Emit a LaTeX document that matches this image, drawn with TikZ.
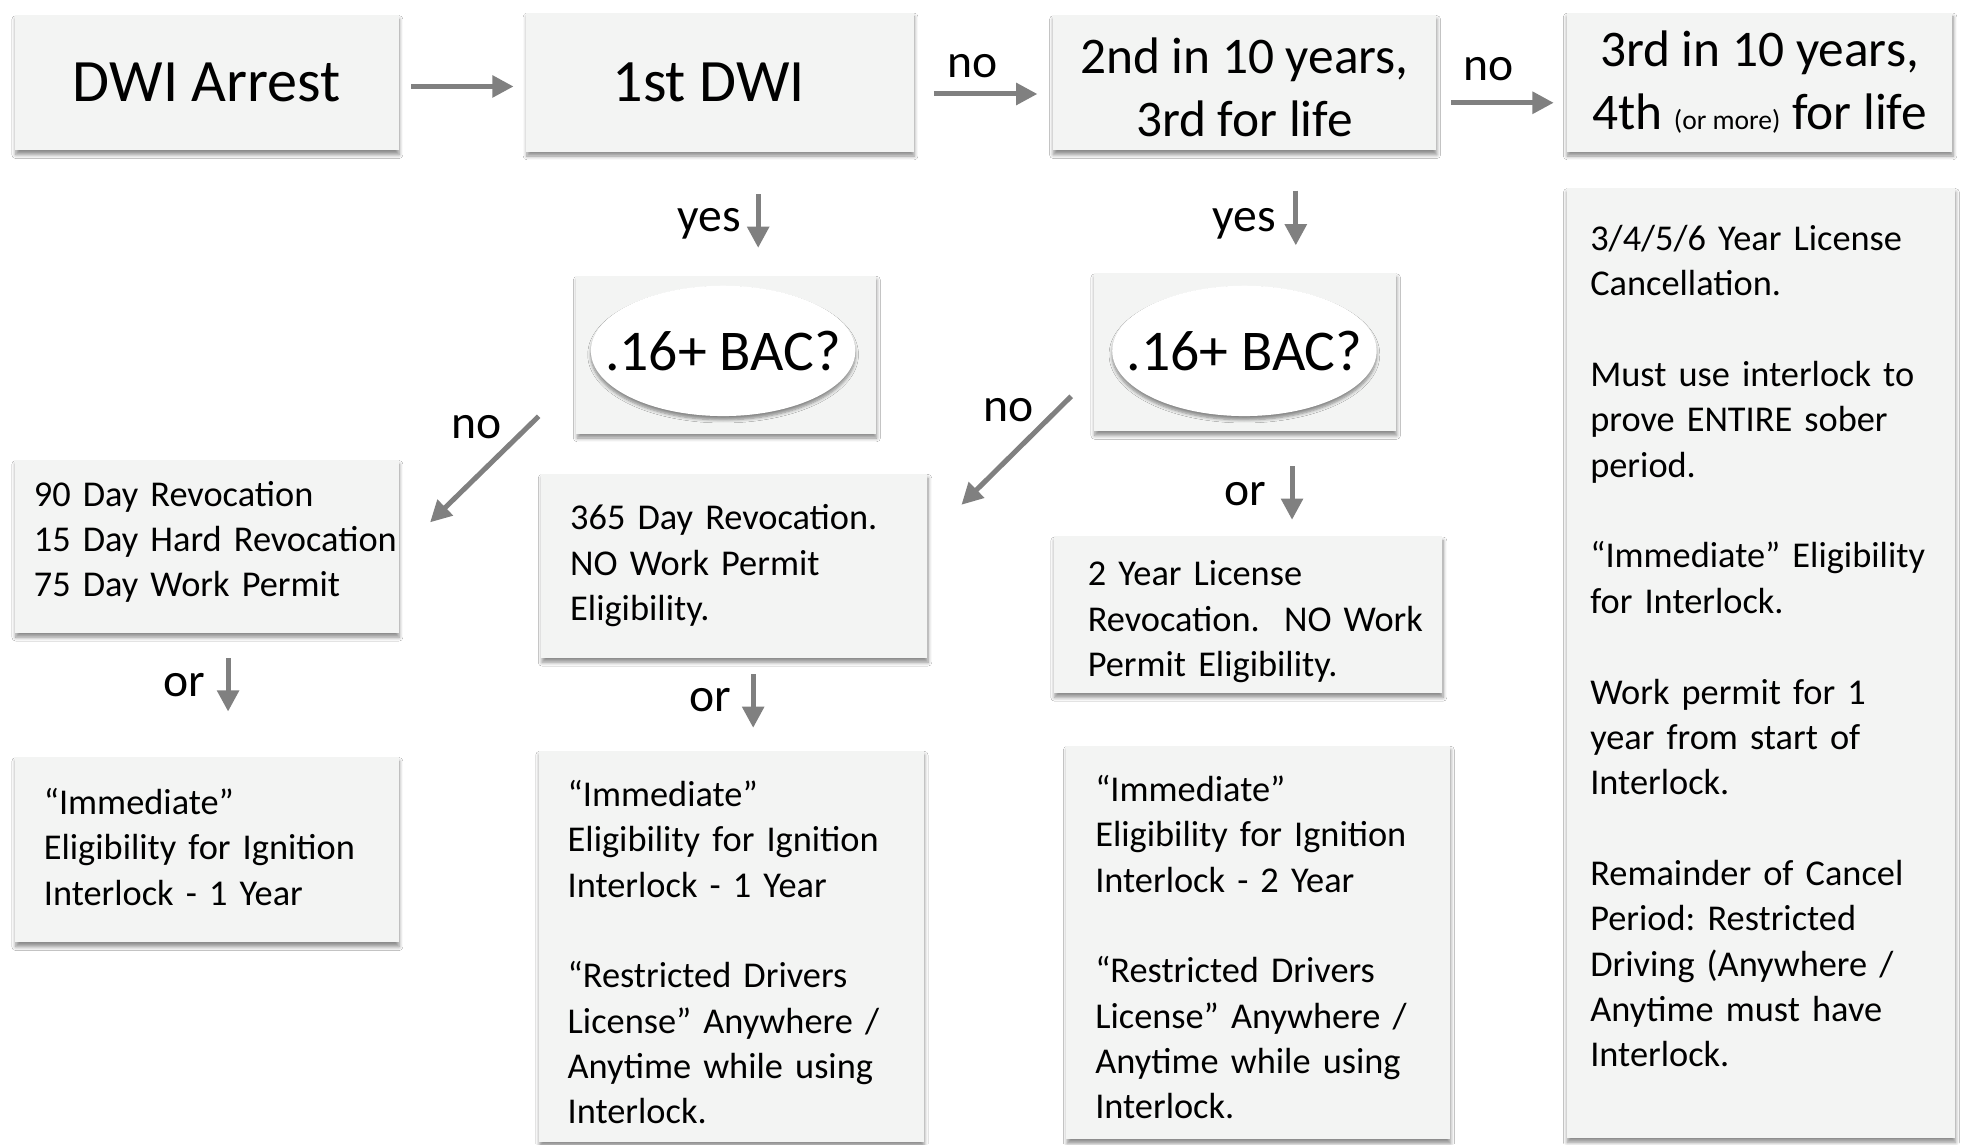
\documentclass[tikz,border=0pt]{standalone}
\usepackage{fontspec}
\setmainfont{Carlito}
\usetikzlibrary{arrows.meta,shapes.geometric,shadows.blur}
\frenchspacing
\definecolor{boxfill}{HTML}{F3F4F3}
\definecolor{arrgray}{HTML}{808080}
\newcommand\bodyfont{\fontsize{29}{36.2}\selectfont}
\newcommand\bigfont{\fontsize{48}{56}\selectfont}
\newcommand\titlefont{\fontsize{41}{50}\selectfont}
\newcommand\labfont{\fontsize{38}{44}\selectfont}
\newcommand\skipln{\\[36.2pt]}
\newcommand\topstrut[1]{\rule{0pt}{#1}}
\newcommand\botstrut[1]{\rule[-#1]{0pt}{1pt}}
\tikzset{
  box/.style={rectangle, fill=boxfill, inner sep=0pt,
    blur shadow={shadow xshift=0.5pt, shadow yshift=-3.5pt, shadow blur radius=3pt,
      shadow blur steps=6, shadow opacity=45}},
  tbox/.style={box, align=left, font=\bodyfont, inner ysep=0pt},
  hbox/.style={box, align=center},
  oval/.style={ellipse, fill=white, inner sep=0pt, minimum width=211pt, minimum height=104pt,
    font=\fontsize{46}{52}\selectfont,
    blur shadow={shadow xshift=0pt, shadow yshift=-3pt, shadow blur radius=2.5pt,
      shadow blur steps=6, shadow opacity=45}},
  arr/.style={draw=arrgray, line width=4pt, -{Triangle[length=17pt,width=17pt]}},
  lab/.style={font=\labfont, anchor=base, inner sep=0pt}
}
\begin{document}
\begin{tikzpicture}[x=1pt,y=-1pt]
\path[fill=white, use as bounding box] (0,0) rectangle (1568,913);

% top row
\node[hbox, font=\bigfont, minimum width=306pt, minimum height=108pt] (B1) at (165,66) {DWI Arrest};
\node[hbox, font=\bigfont, minimum width=309pt, minimum height=111pt] (B2) at (574.5,65.5) {1st DWI\hspace{18pt}};
\node[hbox, font=\titlefont, minimum width=306pt, minimum height=108pt] (B3) at (993,66) {\topstrut{36pt}2nd in 10 years,\\3rd for life};
\node[hbox, font=\titlefont, minimum width=308pt, minimum height=111pt] (B4) at (1404,65.5) {3rd in 10 years,\\4th {\fontsize{22}{26}\selectfont(or more)} for life};

% decision boxes
\node[box, minimum width=239pt, minimum height=126pt] (E1box) at (579.5,283) {};
\node[oval] (E1) at (577,280) {\makebox[0pt]{.16+ BAC?}};
\node[box, minimum width=241pt, minimum height=126pt] (E2box) at (993.5,281) {};
\node[oval] (E2) at (993,280) {\makebox[0pt]{.16+ BAC?}};

% left column
\node[tbox, minimum width=306pt, minimum height=138pt, inner xsep=15pt, text width=276pt] (L1) at (165,436)
  {\mbox{90 Day Revocation}\\\mbox{15 Day Hard Revocation}\\\mbox{75 Day Work Permit\botstrut{12pt}}};
\node[tbox, minimum width=306pt, minimum height=148pt, inner xsep=23pt, text width=260pt] (L2) at (165,678)
  {\mbox{“Immediate”}\\\mbox{Eligibility for Ignition}\\\mbox{Interlock - 1 Year\botstrut{5pt}}};

% middle column
\node[tbox, minimum width=308pt, minimum height=147pt, inner xsep=23pt, text width=262pt] (M1) at (586,451.5)
  {\mbox{365 Day Revocation.}\\\mbox{NO Work Permit}\\\mbox{Eligibility.}};
\node[tbox, minimum width=307pt, minimum height=312pt, inner xsep=23pt, text width=261pt] (M2) at (583.5,755)
  {\mbox{\topstrut{30.5pt}“Immediate”}\\\mbox{Eligibility for Ignition}\\\mbox{Interlock - 1 Year}\skipln
   \mbox{“Restricted Drivers}\\\mbox{License” Anywhere /}\\\mbox{Anytime while using}\\\mbox{Interlock.}};

% third column
\node[tbox, minimum width=310pt, minimum height=125pt, inner xsep=27pt, text width=256pt] (C1) at (996,490.5)
  {\mbox{\topstrut{31.5pt}2 Year License}\\\mbox{Revocation.\ \ NO Work}\\\mbox{Permit Eligibility.}};
\node[tbox, minimum width=306pt, minimum height=314pt, inner xsep=23pt, text width=260pt] (C2) at (1004,752)
  {\mbox{\topstrut{28.5pt}“Immediate”}\\\mbox{Eligibility for Ignition}\\\mbox{Interlock - 2 Year}\skipln
   \mbox{“Restricted Drivers}\\\mbox{License” Anywhere /}\\\mbox{Anytime while using}\\\mbox{Interlock.}};

% right column
\node[tbox, minimum width=310pt, minimum height=758pt, inner xsep=19pt, text width=272pt] (R) at (1405,529)
  {\mbox{3/4/5/6 Year License}\\\mbox{Cancellation.}\skipln
   \mbox{Must use interlock to}\\\mbox{prove ENTIRE sober}\\\mbox{period.}\skipln
   \mbox{“Immediate” Eligibility}\\\mbox{for Interlock.}\skipln
   \mbox{Work permit for 1}\\\mbox{year from start of}\\\mbox{Interlock.}\skipln
   \mbox{Remainder of Cancel}\\\mbox{Period: Restricted}\\\mbox{Driving (Anywhere /}\\\mbox{Anytime must have}\\\mbox{Interlock.\botstrut{27pt}}};

% labels
\node[lab] (n1) at (776,62) {no};
\node[lab] (n2) at (1188,64) {no};
\node[lab] (y1) at (566,185) {yes};
\node[lab] (y2) at (993,185) {yes};
\node[lab] (n3) at (380,350) {no};
\node[lab] (n4) at (805,336) {no};
\node[lab] (o1) at (147,556) {or};
\node[lab] (o2) at (567,568) {or};
\node[lab] (o3) at (994,403) {or};

% connectors
\draw[arr, shorten <=10pt, shorten >=10pt] ([yshift=-3pt]B1.east) -- ([yshift=-3pt]B1.east -| B2.west);
\draw[arr, shorten <=16pt, shorten >=12pt] ([yshift=-9.5pt]B2.east) -- ([yshift=-9.5pt]B2.east -| B3.west);
\draw[arr, shorten <=12pt, shorten >=10pt] ([yshift=-16pt]B3.east) -- ([yshift=-16pt]B3.east -| B4.west);
\draw[arr, shorten <=34pt, shorten >=22pt] ([xshift=30.5pt]B2.south) -- ([xshift=30.5pt]B2.south |- E1box.north);
\draw[arr, shorten <=32pt, shorten >=22pt] ([xshift=41pt]B3.south) -- ([xshift=41pt]B3.south |- E2box.north);
\draw[arr] ([shift={(-30,-14)}]E1box.south west) -- ([shift={(25,50)}]L1.north east);
\draw[arr] ([shift={(-18,-28)}]E2box.south west) -- ([shift={(27,25)}]M1.north east);
\draw[arr, shorten <=20pt, shorten >=36pt] ([xshift=17pt]L1.south) -- ([xshift=17pt]L1.south |- L2.north);
\draw[arr, shorten <=13pt, shorten >=18pt] ([xshift=15pt]M1.south) -- ([xshift=15pt]M1.south |- M2.north);
\draw[arr, shorten <=28pt, shorten >=13pt] ([xshift=37.5pt]E2box.south) -- ([xshift=37.5pt]E2box.south |- C1.north);
\end{tikzpicture}
\end{document}
